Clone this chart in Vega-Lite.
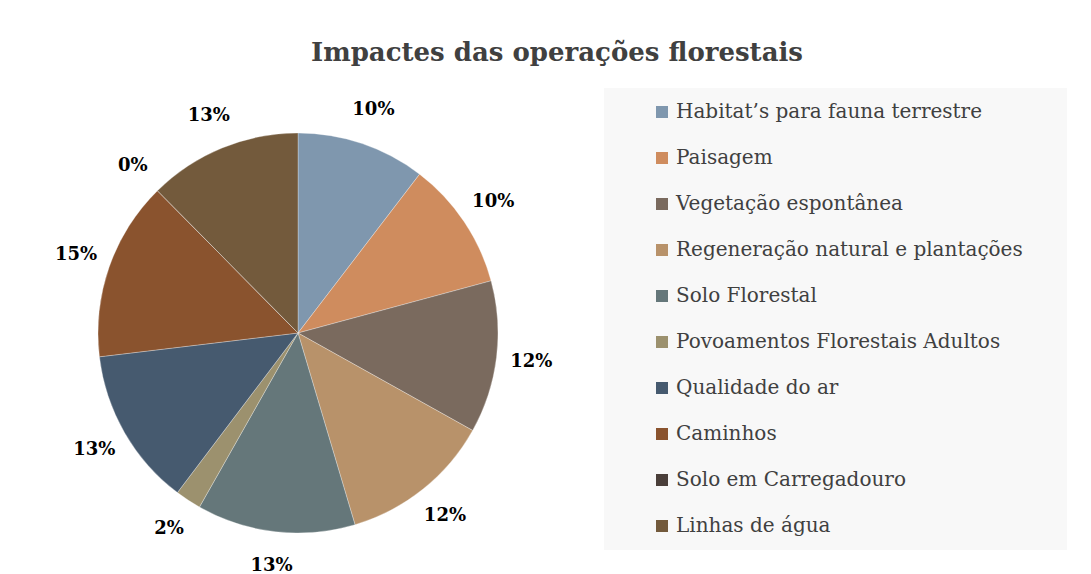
{
  "$schema": "https://vega.github.io/schema/vega-lite/v6.json",
  "width": 420,
  "height": 420,
  "autosize": {"type": "none"},
  "padding": {"left": 88, "top": 123, "right": 583, "bottom": 31},
  "background": "white",
  "title": {
    "text": "Impactes das operações florestais",
    "font": "DejaVu Serif",
    "fontSize": 26,
    "fontWeight": "bold",
    "color": "#404040",
    "anchor": "middle",
    "frame": "group",
    "dx": 259,
    "offset": 22
  },
  "data": {
    "values": [
      {"ord": 1, "impacte": "Habitat’s para fauna terrestre", "valor": 10.4, "rotulo": "10%"},
      {"ord": 2, "impacte": "Paisagem", "valor": 10.4, "rotulo": "10%"},
      {"ord": 3, "impacte": "Vegetação espontânea", "valor": 12.3, "rotulo": "12%"},
      {"ord": 4, "impacte": "Regeneração natural e plantações", "valor": 12.3, "rotulo": "12%"},
      {"ord": 5, "impacte": "Solo Florestal", "valor": 12.8, "rotulo": "13%"},
      {"ord": 6, "impacte": "Povoamentos Florestais Adultos", "valor": 2.1, "rotulo": "2%"},
      {"ord": 7, "impacte": "Qualidade do ar", "valor": 12.8, "rotulo": "13%"},
      {"ord": 8, "impacte": "Caminhos", "valor": 14.5, "rotulo": "15%"},
      {"ord": 9, "impacte": "Solo em Carregadouro", "valor": 0, "rotulo": "0%"},
      {"ord": 10, "impacte": "Linhas de água", "valor": 12.4, "rotulo": "13%"}
    ]
  },
  "encoding": {
    "theta": {"field": "valor", "type": "quantitative", "stack": true},
    "order": {"field": "ord", "type": "quantitative"},
    "color": {
      "field": "impacte",
      "type": "nominal",
      "scale": {
        "domain": ["Habitat’s para fauna terrestre", "Paisagem", "Vegetação espontânea", "Regeneração natural e plantações", "Solo Florestal", "Povoamentos Florestais Adultos", "Qualidade do ar", "Caminhos", "Solo em Carregadouro", "Linhas de água"],
        "range": ["#7f97ae", "#cf8c5e", "#7a6a5e", "#b8926a", "#65777a", "#9c916e", "#465a6f", "#8a532e", "#4a3f3a", "#735a3c"]
      },
      "legend": {
        "orient": "none",
        "legendX": 516,
        "legendY": -35,
        "title": null,
        "fillColor": "#f8f8f8",
        "padding": 14,
        "symbolType": "square",
        "symbolSize": 144,
        "symbolStrokeWidth": 0,
        "symbolOffset": 34,
        "labelOffset": 4,
        "labelFont": "DejaVu Serif",
        "labelFontSize": 20,
        "labelColor": "#404040",
        "labelLimit": 600,
        "labelExpr": "datum.label + '\u2800\u2800'",
        "rowPadding": 26
      }
    }
  },
  "layer": [
    {"mark": {"type": "arc", "outerRadius": 200, "stroke": "#ffffff", "strokeWidth": 0.3}},
    {
      "mark": {"type": "text", "radius": 235, "font": "DejaVu Serif", "fontSize": 18, "fontWeight": "bold"},
      "encoding": {"text": {"field": "rotulo"}, "color": {"value": "#000000"}}
    }
  ],
  "config": {"view": {"stroke": null}}
}
